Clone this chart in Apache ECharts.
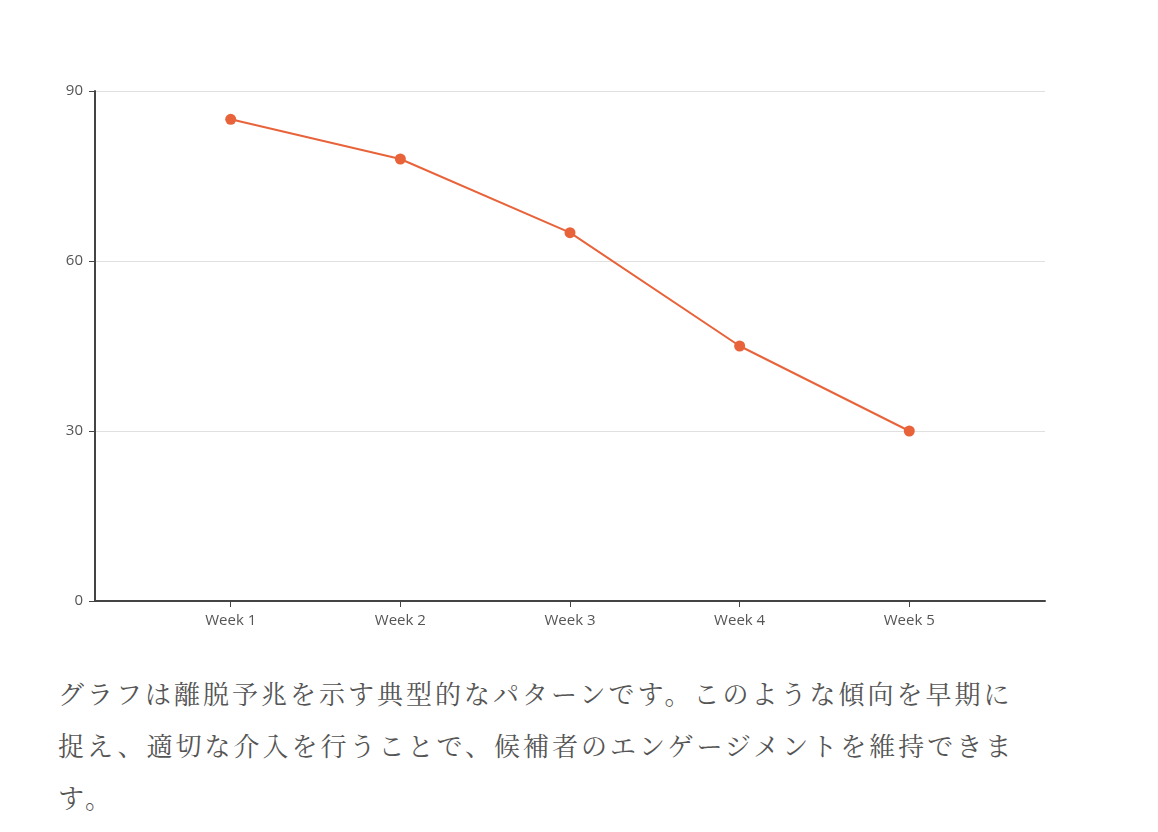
<!DOCTYPE html>
<html><head><meta charset="utf-8">
<script src="https://cdn.jsdelivr.net/npm/echarts@6/dist/echarts.min.js"></script>
<style>
body{margin:0;background:#fff;width:1158px;height:832px;overflow:hidden}
#c{width:1158px;height:650px}
#t{position:absolute;left:58px;top:667px;width:975px;font-family:"Noto Serif CJK JP","Noto Sans CJK JP",serif;font-size:26px;line-height:52px;color:#555;letter-spacing:3px}
</style></head><body>
<div id="c"></div>
<div id="t">グラフは離脱予兆を示す典型的なパターンです。このような傾向を早期に捉え、適切な介入を行うことで、候補者のエンゲージメントを維持できます。</div>
<script>
const categories=['Week 1','Week 2','Week 3','Week 4','Week 5'];
const values=[85,78,65,45,30];
const yTicks=[0,30,60,90];
const chart=echarts.init(document.getElementById('c'));
chart.setOption({
 animation:false,
 grid:{left:95,right:113,top:91,bottom:49,containLabel:false},
 xAxis:{type:'value',min:0.2,max:5.8,
  axisLine:{lineStyle:{color:'#444',width:2}},
  axisTick:{customValues:[1,2,3,4,5],lineStyle:{color:'#444'},length:6},
  axisLabel:{customValues:[1,2,3,4,5],formatter:v=>categories[Math.round(v)-1]||'',color:'#555',fontSize:15,fontFamily:'Open Sans',margin:12},
  splitLine:{show:false}},
 yAxis:{type:'value',min:0,max:90,interval:30,
  axisLine:{show:true,lineStyle:{color:'#444',width:2}},
  axisTick:{show:true,lineStyle:{color:'#444'},length:6},
  axisLabel:{color:'#555',fontSize:15,fontFamily:'Open Sans',margin:12},
  splitLine:{lineStyle:{color:'#e0e0e0'}}},
 series:[{type:'line',data:values.map((v,i)=>[i+1,v]),
  symbol:'circle',symbolSize:11,
  lineStyle:{color:'#e8633a',width:2},itemStyle:{color:'#e8633a'}}]
});
</script></body></html>
